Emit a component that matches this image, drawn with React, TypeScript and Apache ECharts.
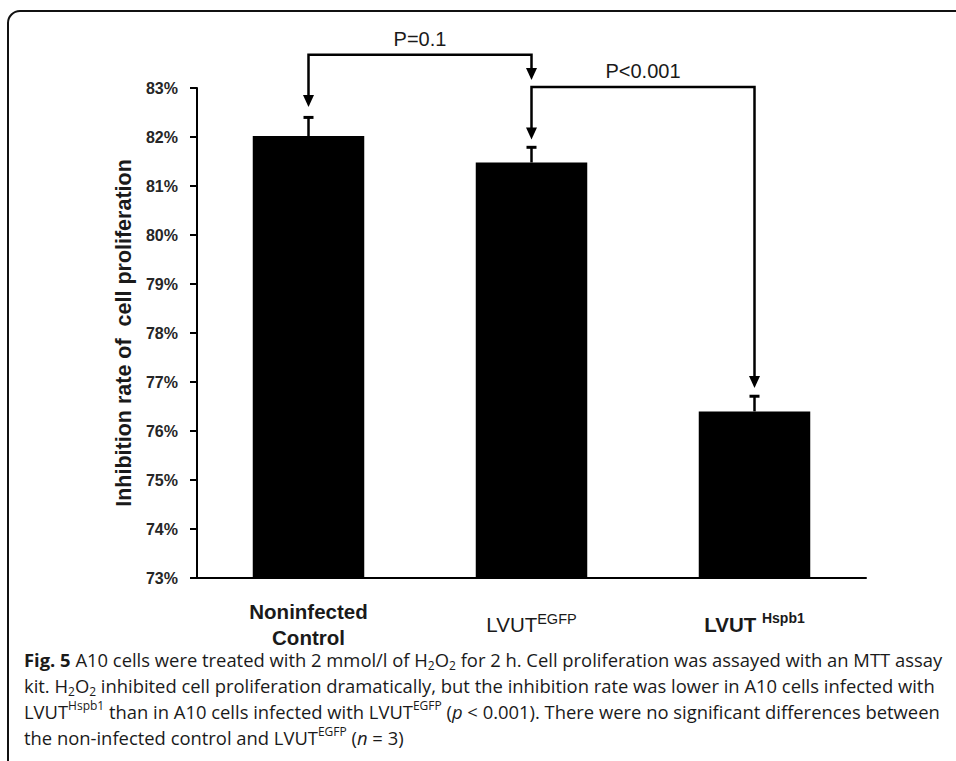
import React, { useEffect, useRef } from "react";
import * as echarts from "echarts";

const categories = [
  "{b|Noninfected}\n{b|Control}",
  "{n|LVUT}{ns|EGFP}",
  "{b|LVUT }{bs|Hspb1}",
];
const values = [82.02, 81.48, 76.4];
const errors = [0.4, 0.33, 0.33];
const yTicks = { min: 73, max: 83, interval: 1 };
const yAxisName = "Inhibition rate of  cell proliferation";
// [fromIndex, toIndex, bracketLevel, tipFrom, tipTo]
const brackets = [
  [0, 1, 83.68, 82.61, 83.165],
  [1, 2, 83.02, 81.95, 76.88],
];
const bracketLabels = ["P=0.1", "P<0.001"];
const captionLines = [
  "{fb|Fig. 5}{t| A10 cells were treated with 2 mmol/l of H}{sub|2}{t|O}{sub|2}{t| for 2 h. Cell proliferation was assayed with an MTT assay}",
  "{t|kit. H}{sub|2}{t|O}{sub|2}{t| inhibited cell proliferation dramatically, but the inhibition rate was lower in A10 cells infected with}",
  "{t|LVUT}{sup|Hspb1}{t| than in A10 cells infected with LVUT}{sup|EGFP}{t| (}{ti|p}{t| < 0.001). There were no significant differences between}",
  "{t|the non-infected control and LVUT}{sup|EGFP}{t| (}{ti|n}{t| = 3)}",
];

const FONT = "'Liberation Sans', Arial, sans-serif";
const CAP_FONT = "'Open Sans', sans-serif";

export default function App() {
  const ref = useRef<HTMLDivElement>(null);
  useEffect(() => {
    const chart = echarts.init(ref.current!, null, { renderer: "svg" });
    const capSize = 18.4;
    const capRich = {
      t: { fontSize: capSize, lineHeight: 24, fontFamily: CAP_FONT, fill: "#1a1a1a" },
      ti: { fontSize: capSize, lineHeight: 24, fontStyle: "italic", fontFamily: CAP_FONT, fill: "#1a1a1a" },
      fb: { fontSize: capSize, lineHeight: 24, fontWeight: "bold", fontFamily: CAP_FONT, fill: "#1a1a1a" },
      sup: { fontSize: 12, lineHeight: 20, verticalAlign: "top", fontFamily: CAP_FONT, fill: "#1a1a1a" },
      sub: { fontSize: 12, lineHeight: 18, verticalAlign: "bottom", fontFamily: CAP_FONT, fill: "#1a1a1a" },
    };
    const option: any = {
      animation: false,
      backgroundColor: "#fff",
      grid: { left: 197, right: 90, top: 88, bottom: 183 },
      xAxis: {
        type: "category",
        data: categories,
        axisLine: { lineStyle: { color: "#000", width: 2 } },
        axisTick: { show: false },
        axisLabel: {
          margin: 46,
          verticalAlign: "middle",
          color: "#1a1a1a",
          fontFamily: FONT,
          rich: {
            b: { fontSize: 20.5, fontWeight: "bold", lineHeight: 26, fontFamily: FONT, color: "#1a1a1a" },
            n: { fontSize: 20.5, lineHeight: 26, fontFamily: FONT, color: "#1a1a1a" },
            ns: { fontSize: 14.5, lineHeight: 20, verticalAlign: "top", fontFamily: FONT, color: "#1a1a1a" },
            bs: { fontSize: 14, fontWeight: "bold", lineHeight: 18, verticalAlign: "top", fontFamily: FONT, color: "#1a1a1a" },
          },
        },
      },
      yAxis: {
        type: "value",
        min: yTicks.min,
        max: yTicks.max,
        interval: yTicks.interval,
        name: yAxisName,
        nameLocation: "middle",
        nameGap: 59,
        nameTextStyle: { fontSize: 21.5, fontWeight: "bold", color: "#1a1a1a", fontFamily: FONT },
        axisLine: { show: true, lineStyle: { color: "#000", width: 2 } },
        axisTick: { show: true, inside: false, length: 7, lineStyle: { color: "#000", width: 2 } },
        splitLine: { show: false },
        axisLabel: {
          formatter: "{value}%",
          margin: 19,
          fontSize: 16,
          fontWeight: "bold",
          color: "#262626",
          fontFamily: FONT,
        },
      },
      series: [
        {
          type: "bar",
          data: values,
          barWidth: "50%",
          itemStyle: { color: "#000" },
        },
        {
          type: "custom",
          clip: false,
          data: values.map((v, i) => [i, v, errors[i]]),
          renderItem: (params: any, api: any) => {
            const i = api.value(0);
            const base = api.coord([i, api.value(1)]);
            const top = api.coord([i, api.value(1) + api.value(2)]);
            return {
              type: "group",
              children: [
                { type: "line", shape: { x1: base[0], y1: base[1], x2: top[0], y2: top[1] }, style: { stroke: "#000", lineWidth: 2.5 } },
                { type: "line", shape: { x1: top[0] - 5, y1: top[1] + 1, x2: top[0] + 5, y2: top[1] + 1 }, style: { stroke: "#000", lineWidth: 3 } },
              ],
            };
          },
        },
        {
          type: "custom",
          clip: false,
          data: brackets,
          renderItem: (params: any, api: any) => {
            const a = api.value(0), b = api.value(1);
            const lvl = api.value(2);
            const p1 = api.coord([a, lvl]);
            const p2 = api.coord([b, lvl]);
            const t1 = api.coord([a, api.value(3)]);
            const t2 = api.coord([b, api.value(4)]);
            const ah = 12, aw = 5.5;
            const style = { stroke: "#000", lineWidth: 2.5, fill: "none" };
            return {
              type: "group",
              children: [
                { type: "polyline", shape: { points: [[t1[0], t1[1] - ah + 1], [p1[0], p1[1]], [p2[0], p2[1]], [t2[0], t2[1] - ah + 1]] }, style },
                { type: "polygon", shape: { points: [[t1[0] - aw, t1[1] - ah], [t1[0] + aw, t1[1] - ah], [t1[0], t1[1]]] }, style: { fill: "#000" } },
                { type: "polygon", shape: { points: [[t2[0] - aw, t2[1] - ah], [t2[0] + aw, t2[1] - ah], [t2[0], t2[1]]] }, style: { fill: "#000" } },
                {
                  type: "text",
                  x: (p1[0] + p2[0]) / 2,
                  y: p1[1] - 16,
                  style: { text: bracketLabels[params.dataIndex], fontSize: 20, fontFamily: FONT, fill: "#1a1a1a", align: "center", verticalAlign: "middle" },
                },
              ],
            };
          },
        },
      ],
      graphic: [
        {
          type: "rect",
          shape: { x: 8, y: 11, width: 1100, height: 900, r: [12, 0, 0, 0] },
          style: { fill: "none", stroke: "#111", lineWidth: 2 },
          silent: true,
        },
        ...captionLines.map((line, k) => ({
          type: "text",
          x: 24,
          y: 647 + k * 26,
          style: {
            text: line,
            fill: "#1a1a1a",
            fontFamily: CAP_FONT,
            fontSize: capSize,
            rich: capRich,
          },
        })),
      ],
    };
    chart.setOption(option);
    return () => chart.dispose();
  }, []);
  return (
    <div
      ref={ref}
      style={{ position: "fixed", left: 0, top: 0, width: 956, height: 761 }}
    />
  );
}
